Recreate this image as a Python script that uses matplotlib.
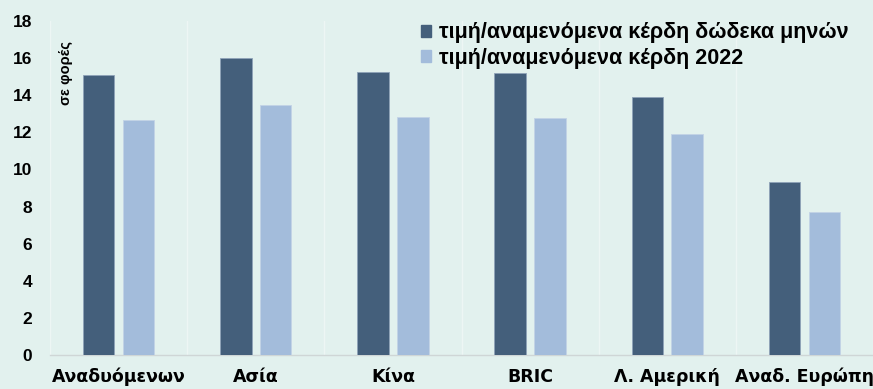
import numpy as np
import matplotlib.pyplot as plt
from matplotlib.patches import Patch

# P/E ratios by region
regions = ['Αναδυόμενων', 'Ασία', 'Κίνα', 'BRIC', 'Λ. Αμερική', 'Αναδ. Ευρώπη']
pe_12m = [15.1, 16.0, 15.25, 15.2, 13.9, 9.3]
pe_2022 = [12.65, 13.5, 12.85, 12.75, 11.9, 7.7]
labels = ['τιμή/αναμενόμενα κέρδη δώδεκα μηνών', 'τιμή/αναμενόμενα κέρδη 2022']

bg = '#e2f1ee'
dark = '#445f7b'
light = '#a3bcdb'

fig = plt.figure(figsize=(8.73, 3.89), dpi=100, facecolor=bg)
ax = fig.add_axes([0.0573, 0.0874, 0.9427, 0.8586], facecolor=bg)

x = np.arange(len(regions))
w = 0.23
ax.bar(x - 0.145, pe_12m, w, color=dark, edgecolor='#8fa3b8', linewidth=0.6, zorder=3)
ax.bar(x + 0.145, pe_2022, w, color=light, edgecolor='#c3d3e6', linewidth=0.6, zorder=3)

ax.set_xlim(-0.5, len(regions) - 0.5)
ax.set_ylim(0, 18)
ax.set_yticks(np.arange(0, 19, 2))

# faint separators between categories
for b in np.arange(-0.5, len(regions), 1.0):
    ax.axvline(b, color='#edf6f4', linewidth=1.0, zorder=1)

for s in ['top', 'right', 'left']:
    ax.spines[s].set_visible(False)
ax.spines['bottom'].set_color('#cfd6d6')
ax.spines['bottom'].set_linewidth(1.0)

ax.set_xticks(x)
ax.set_xticklabels(regions, fontsize=12.5, fontweight='bold',
                   family=['Liberation Sans Narrow', 'DejaVu Sans'])
ax.tick_params(axis='x', length=0, pad=9)
ax.tick_params(axis='y', length=0, pad=13, labelsize=12.5)
for t in ax.get_yticklabels():
    t.set_fontweight('bold')
    t.set_family(['Liberation Sans', 'DejaVu Sans'])

ax.text(0.02, 0.94, 'σε φορές', transform=ax.transAxes, rotation=90,
        ha='center', va='top', fontsize=10.5, fontweight='bold',
        family=['Liberation Sans', 'DejaVu Sans'])

handles = [Patch(color=dark), Patch(color=light)]
leg = fig.legend(handles, labels, loc='upper left', bbox_to_anchor=(0.462, 0.987),
                 frameon=False, handlelength=0.5, handleheight=0.5,
                 handletextpad=0.35, labelspacing=0.2, borderpad=0.3,
                 prop={'family': ['Liberation Sans', 'DejaVu Sans'],
                       'weight': 'bold', 'size': 15.5})

fig.savefig('out.png', dpi=100, facecolor=bg)
